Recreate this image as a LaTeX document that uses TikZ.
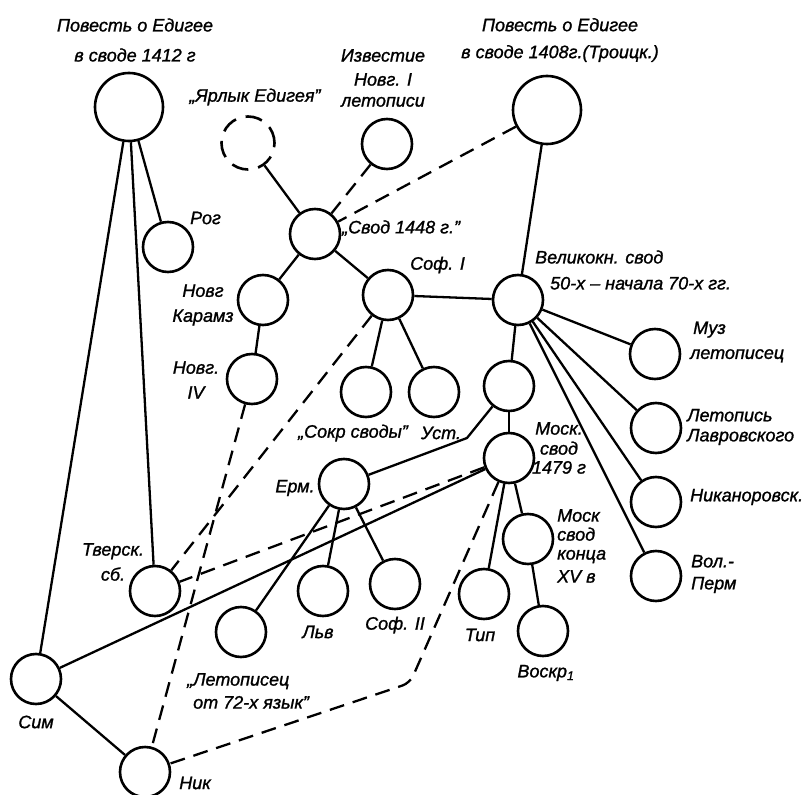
\documentclass[tikz,border=0pt]{standalone}
\usepackage{fontspec}
\setmainfont{Liberation Sans}
\newfontfamily\drafting[FakeBold=1.2]{Liberation Sans}
\begin{document}
\begin{tikzpicture}[x=1pt, y=-1pt,
    src/.style={circle, draw, line width=2.6pt, minimum size=50pt, inner sep=0pt},
    bigsrc/.style={src, minimum size=68pt},
    lost/.style={src, minimum size=53pt, dash pattern=on 17pt off 10pt},
    link/.style={line width=2.3pt},
    guess/.style={link, dash pattern=on 15pt off 9pt},
    lbl/.style={font=\fontsize{18}{22}\selectfont\drafting\itshape, inner sep=0pt, align=center}]

        \useasboundingbox (0,0) rectangle (812,795);

        % Sources
        \node[bigsrc] (p1412) at (129,107) {};
        \node[bigsrc] (p1408) at (547,110) {};
        \node[lost] (yarlyk) at (248,143) {};
        \node[src] (izvest) at (387,144) {};
        \node[src] (rog) at (168,247) {};
        \node[src] (svod1448) at (315,234) {};
        \node[src] (novgk) at (263,300) {};
        \node[src] (sof1) at (388,295) {};
        \node[src] (novg4) at (252,379) {};
        \node[src] (sokr) at (366,392) {};
        \node[src] (ust) at (434,392) {};
        \node[src] (velik) at (518,300) {};
        \node[src] (vmid) at (509,386) {};
        \node[src] (mosk1479) at (509,458) {};
        \node[src] (muz) at (655,354) {};
        \node[src] (lavr) at (656,428) {};
        \node[src] (nikan) at (656,502) {};
        \node[src] (volperm) at (656,576) {};
        \node[src] (moskxv) at (528,539) {};
        \node[src] (tip) at (484,594) {};
        \node[src] (voskr) at (543,631) {};
        \node[src] (erm) at (344,484) {};
        \node[src] (tversk) at (155,591) {};
        \node[src] (let72) at (241,632) {};
        \node[src] (lvov) at (323,591) {};
        \node[src] (sof2) at (395,584) {};
        \node[src] (sim) at (36,679) {};
        \node[src] (nik) at (145,772) {};

        % Bends
        \coordinate (ermbend) at (467,438);
        \coordinate (nikbend) at (410,683);

        % Solid links
        \draw[link] (p1412) -- (rog);
        \draw[link] (p1412) -- (tversk);
        \draw[link] (p1412) -- (sim);
        \draw[link] (yarlyk) -- (svod1448);
        \draw[link] (svod1448) -- (novgk);
        \draw[link] (svod1448) -- (sof1);
        \draw[link] (novgk) -- (novg4);
        \draw[link] (sof1) -- (sokr);
        \draw[link] (sof1) -- (ust);
        \draw[link] (sof1) -- (velik);
        \draw[link] (p1408) -- (velik);
        \draw[link] (velik) -- (vmid);
        \draw[link] (velik) -- (muz);
        \draw[link] (velik) -- (lavr);
        \draw[link] (velik) -- (nikan);
        \draw[link] (velik) -- (volperm);
        \draw[link] (vmid) -- (mosk1479);
        \draw[link] (vmid) -- (ermbend) -- (erm);
        \draw[link] (mosk1479) -- (tip);
        \draw[link] (mosk1479) -- (moskxv);
        \draw[link] (moskxv) -- (voskr);
        \draw[link] (mosk1479) -- (sim);
        \draw[link] (erm) -- (let72);
        \draw[link] (erm) -- (lvov);
        \draw[link] (erm) -- (sof2);
        \draw[link] (sim) -- (nik);

        % Dashed links
        \draw[guess] (izvest) -- (svod1448);
        \draw[guess] (p1408) -- (svod1448);
        \draw[guess] (novg4) -- (nik);
        \draw[guess] (sof1) -- (tversk);
        \draw[guess] (mosk1479) -- (tversk);
        \draw[guess, rounded corners=8pt] (mosk1479) -- (nikbend) -- (nik);

        % Labels
        \node[lbl] (t-p1412) at (135,40) {Повесть о Едигее\\[8pt]в своде 1412 г};
        \node[lbl] (t-p1408) at (560,40) {Повесть о Едигее\\[5pt]в своде 1408г.(Троицк.)};
        \node[lbl] (t-yarlyk) at (255,97) {„Ярлык Едигея”};
        \node[lbl] (t-izvest) at (383,78) {Известие\\[2pt]Новг. I\\[-1pt]летописи};
        \node[lbl, anchor=west] (t-rog) at (190,218) {Рог};
        \node[lbl, anchor=west] (t-svod1448) at (342,228) {„Свод 1448 г.”};
        \node[lbl, anchor=west] (t-sof1) at (410,265) {Соф. I};
        \node[lbl] (t-novgk) at (203,305) {Новг\\[3pt]Карамз};
        \node[lbl] (t-novg4) at (196,380) {Новг.\\[3pt]IV};
        \node[lbl] (t-sokr) at (353,433) {„Сокр своды”};
        \node[lbl] (t-ust) at (441,433) {Уст.};
        \node[lbl, anchor=west, align=left] (t-velik) at (535,270) {Великокн. свод\\[4pt]\hspace*{15pt}50-х – начала 70-х гг.};
        \node[lbl, anchor=west, align=left] (t-muz) at (690,342) {\hspace*{3pt}Муз\\[3pt]летописец};
        \node[lbl, anchor=west, align=left] (t-lavr) at (687,427) {Летопись\\[-2pt]Лавровского};
        \node[lbl, anchor=west] (t-nikan) at (690,497) {Никаноровск.};
        \node[lbl, anchor=west, align=left] (t-volperm) at (691,574) {Вол.-\\Перм};
        \node[lbl] (t-mosk1479) at (559,448) {Моск.\\[-2pt]свод\\[-3pt]1479 г};
        \node[lbl, anchor=west, align=left] (t-moskxv) at (557,546) {Моск\\[-3pt]свод\\[-3pt]конца\\[1pt]XV в};
        \node[lbl] (t-tip) at (480,635) {Тип};
        \node[lbl] (t-voskr) at (546,673) {Воскр\textsubscript{1}};
        \node[lbl] (t-erm) at (295,488) {Ерм.};
        \node[lbl] (t-tversk) at (113,562) {Тверск.\\[3pt]сб.};
        \node[lbl] (t-lvov) at (318,632) {Льв};
        \node[lbl] (t-sof2) at (395,625) {Соф. II};
        \node[lbl, anchor=west, align=left] (t-let72) at (187,691) {„Летописец\\[1pt]\hspace*{6pt}от 72-х язык”};
        \node[lbl] (t-sim) at (36,722) {Сим};
        \node[lbl] (t-nik) at (195,783) {Ник};

    \end{tikzpicture}
\end{document}
